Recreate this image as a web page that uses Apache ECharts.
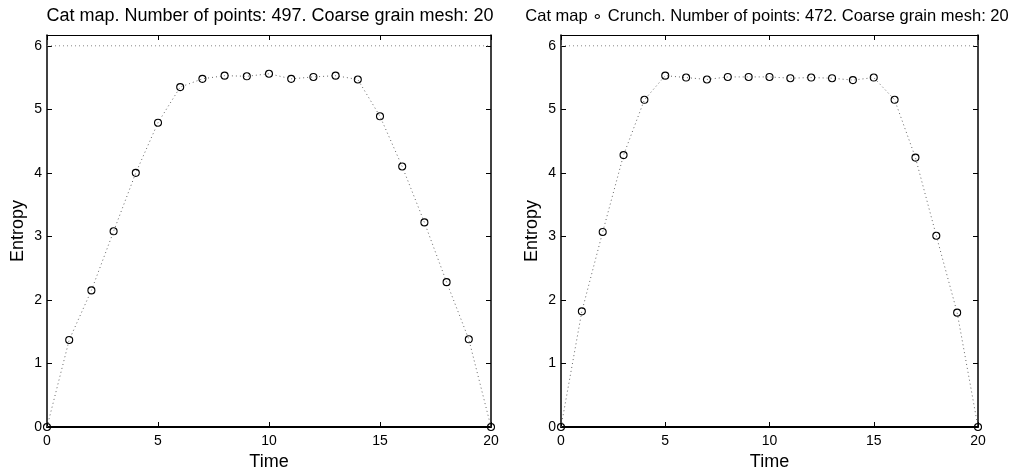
<!DOCTYPE html>
<html>
<head>
<meta charset="utf-8">
<script src="https://cdn.jsdelivr.net/npm/echarts@6/dist/echarts.min.js"></script>
<style>
  html, body { margin: 0; padding: 0; background: #fff; }
  #chart { width: 1018px; height: 467px; }
</style>
</head>
<body>
<div id="chart"></div>
<script>
// Entropy of the coarse-grained distribution over time
const times = [0, 1, 2, 3, 4, 5, 6, 7, 8, 9, 10, 11, 12, 13, 14, 15, 16, 17, 18, 19, 20];
const entropyCat = [0, 1.37, 2.15, 3.08, 4.0, 4.79, 5.35, 5.48, 5.53, 5.52, 5.56, 5.48, 5.51, 5.53, 5.47, 4.89, 4.10, 3.22, 2.28, 1.38, 0];
const entropyCrunch = [0, 1.82, 3.07, 4.28, 5.15, 5.53, 5.50, 5.47, 5.51, 5.51, 5.51, 5.49, 5.50, 5.49, 5.46, 5.50, 5.15, 4.24, 3.01, 1.80, 0];
const maxEntropy = 6;
const xTicks = [0, 5, 10, 15, 20];
const yTicks = [0, 1, 2, 3, 4, 5, 6];
const titles = [
  'Cat map. Number of points: 497. Coarse grain mesh: 20',
  'Cat map \u2218 Crunch. Number of points: 472. Coarse grain mesh: 20'
];
const xName = 'Time';
const yName = 'Entropy';

const FONT = '"Liberation Sans", Arial, Helvetica, sans-serif';
const grids = [
  { left: 47, right: 527, top: 35, bottom: 40, containLabel: false, outerBoundsMode: 'none' },
  { left: 561, right: 40, top: 35, bottom: 40, containLabel: false, outerBoundsMode: 'none' }
];
const yMax = 6.17;

const chart = echarts.init(document.getElementById('chart'), null, { renderer: 'canvas' });

const xAxes = [], yAxes = [], series = [];
grids.forEach((g, i) => {
  const tickLine = { show: true, inside: true, length: 5, lineStyle: { color: '#000', width: 1 } };
  // bottom axis with labels and name
  xAxes.push({
    type: 'value', gridIndex: i, min: xTicks[0], max: xTicks[xTicks.length - 1], interval: 5,
    position: 'bottom', name: xName, nameLocation: 'middle', nameGap: 20,
    nameTextStyle: { fontFamily: FONT, fontSize: 18, color: '#000' },
    axisLine: { show: true, onZero: false, lineStyle: { color: '#000', width: 2 } },
    axisTick: tickLine,
    axisLabel: { fontFamily: FONT, fontSize: 14, color: '#000', margin: 7 },
    splitLine: { show: false }
  });
  // top edge of the box, ticks only
  xAxes.push({
    type: 'value', gridIndex: i, min: xTicks[0], max: xTicks[xTicks.length - 1], interval: 5,
    position: 'top',
    axisLine: { show: true, onZero: false, lineStyle: { color: '#000', width: 1 } },
    axisTick: tickLine, axisLabel: { show: false }, splitLine: { show: false }
  });
  // left axis with labels and name
  yAxes.push({
    type: 'value', gridIndex: i, min: yTicks[0], max: yMax, interval: 1,
    position: 'left', name: yName, nameLocation: 'middle', nameGap: 20,
    nameTextStyle: { fontFamily: FONT, fontSize: 18, color: '#000' },
    axisLine: { show: true, onZero: false, lineStyle: { color: '#000', width: 1.5 } },
    axisTick: tickLine,
    axisLabel: { fontFamily: FONT, fontSize: 14, color: '#000', margin: 5, showMaxLabel: false,
      formatter: v => (yTicks.indexOf(v) >= 0 ? String(v) : '') },
    splitLine: { show: false }
  });
  // right edge of the box, ticks only
  yAxes.push({
    type: 'value', gridIndex: i, min: yTicks[0], max: yMax, interval: 1,
    position: 'right',
    axisLine: { show: true, onZero: false, lineStyle: { color: '#000', width: 1.5 } },
    axisTick: tickLine, axisLabel: { show: false }, splitLine: { show: false }
  });

  const values = i === 0 ? entropyCat : entropyCrunch;
  // level of maximal entropy
  series.push({
    type: 'line', xAxisIndex: i * 2, yAxisIndex: i * 2,
    data: [[times[0], maxEntropy], [times[times.length - 1], maxEntropy]],
    symbol: 'none', silent: true,
    lineStyle: { color: '#888', width: 1, type: [1, 3] }
  });
  // entropy per time step
  series.push({
    type: 'line', xAxisIndex: i * 2, yAxisIndex: i * 2,
    data: times.map((t, k) => [t, values[k]]),
    symbol: 'circle', symbolSize: 7, showAllSymbol: true,
    itemStyle: { color: 'rgba(255,255,255,0)', borderColor: '#000', borderWidth: 1.1 },
    lineStyle: { color: '#666', width: 1, type: [1, 3] },
    clip: false, z: 3
  });
});

chart.setOption({
  animation: false,
  backgroundColor: '#fff',
  title: [
    { text: titles[0], left: 265, top: 2, textAlign: 'center',
      textStyle: { fontFamily: FONT, fontSize: 18, fontWeight: 'normal', color: '#000' } },
    { text: titles[1], left: 762, top: 3, textAlign: 'center',
      textStyle: { fontFamily: FONT, fontSize: 16.5, fontWeight: 'normal', color: '#000' } }
  ],
  grid: grids,
  xAxis: xAxes,
  yAxis: yAxes,
  series: series
});
</script>
</body>
</html>
